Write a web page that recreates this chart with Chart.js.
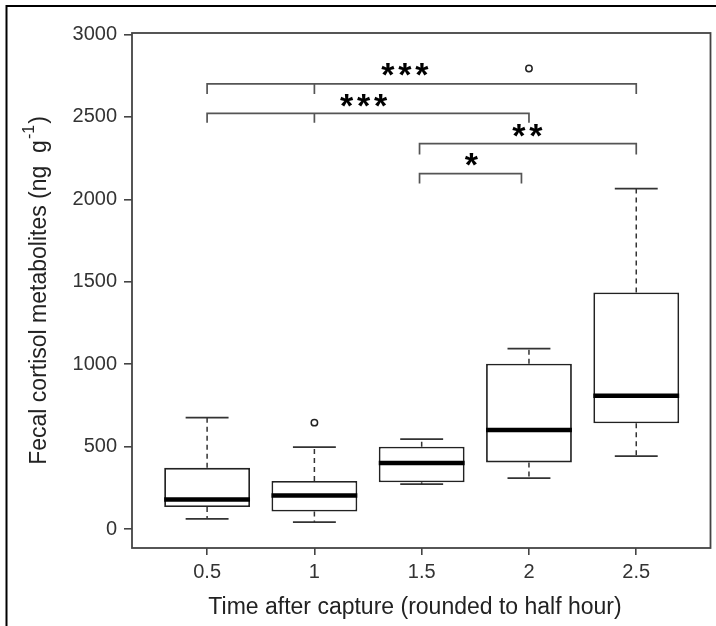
<!DOCTYPE html>
<html><head><meta charset="utf-8">
<script src="https://cdn.jsdelivr.net/npm/chart.js@4"></script>
<style>html,body{margin:0;padding:0;background:#fff;}#wrap{width:716px;height:626px;}</style>
</head><body><div id="wrap"><canvas id="c" width="716" height="626"></canvas></div>
<script>
// ---- data ----
const groups = [0.5, 1, 1.5, 2, 2.5];
const whiskerLow = [63, 43, 273, 310, 443];
const q1 = [135, 107, 285, 405, 642];
const median = [180, 205, 401, 601, 810];
const q3 = [372, 293, 500, 1004, 1435];
const whiskerHigh = [676, 498, 546, 1095, 2065];
const outlierX = [1, 2];
const outlierY = [646, 2794];
const xTicks = [0.5, 1, 1.5, 2, 2.5];
const xTickLabels = ['0.5', '1', '1.5', '2', '2.5'];
const yTicks = [0, 500, 1000, 1500, 2000, 2500, 3000];
// significance brackets
const bracketFrom = [0.5, 0.5, 1.49, 1.49];
const bracketTo = [2.5, 2.0, 2.5, 1.965];
const bracketY = [2701, 2522, 2338, 2156];
const bracketDrop = [62, 58, 66, 60];
const bracketMid = [1, 1, null, null];
const starLabels = ['***', '***', '**', '*'];
const starX = [1.422, 1.229, 1.993, 1.731];
const starY = [2788, 2599, 2417, 2241];
const xTitle = 'Time after capture (rounded to half hour)';
const yTitleMain = 'Fecal cortisol metabolites (ng  g';
const yTitleSup = '-1';
const yTitleEnd = ')';

const FONT = '"Liberation Sans", Arial, Helvetica, sans-serif';

const boxPlugin = {
  id: 'boxextras',
  beforeDraw(chart) {
    const c = chart.ctx;
    c.save();
    c.fillStyle = '#fff';
    c.fillRect(0, 0, chart.width, chart.height);
    c.strokeStyle = '#000';
    c.lineWidth = 2;
    c.beginPath();
    c.moveTo(6.5, chart.height); c.lineTo(6.5, 6); c.lineTo(chart.width, 6);
    c.stroke();
    c.restore();
  },
  afterDatasetsDraw(chart) {
    const c = chart.ctx;
    const xs = chart.scales.x, ys = chart.scales.y;
    const bars = chart.getDatasetMeta(0).data;
    c.save();
    // whiskers
    groups.forEach((g, i) => {
      const px = xs.getPixelForValue(g);
      const w = bars[i].width;
      c.strokeStyle = '#333';
      c.lineWidth = 1.5;
      c.setLineDash([5, 4]);
      c.beginPath();
      c.moveTo(px, ys.getPixelForValue(q3[i])); c.lineTo(px, ys.getPixelForValue(whiskerHigh[i]));
      c.moveTo(px, ys.getPixelForValue(q1[i])); c.lineTo(px, ys.getPixelForValue(whiskerLow[i]));
      c.stroke();
      c.setLineDash([]);
      c.lineWidth = 1.8;
      c.beginPath();
      const hy = ys.getPixelForValue(whiskerHigh[i]);
      const ly = ys.getPixelForValue(whiskerLow[i]);
      c.moveTo(px - w / 4, hy); c.lineTo(px + w / 4, hy);
      c.moveTo(px - w / 4, ly); c.lineTo(px + w / 4, ly);
      c.stroke();
      // median
      c.strokeStyle = '#000';
      c.lineWidth = 4.5;
      c.beginPath();
      const my = ys.getPixelForValue(median[i]);
      c.moveTo(px - w / 2, my); c.lineTo(px + w / 2, my);
      c.stroke();
    });
    // brackets
    c.strokeStyle = '#555';
    c.lineWidth = 1.7;
    bracketY.forEach((v, i) => {
      const y = ys.getPixelForValue(v);
      const yd = ys.getPixelForValue(v - bracketDrop[i]);
      const x1 = xs.getPixelForValue(bracketFrom[i]);
      const x2 = xs.getPixelForValue(bracketTo[i]);
      c.beginPath();
      c.moveTo(x1, yd); c.lineTo(x1, y); c.lineTo(x2, y); c.lineTo(x2, yd);
      if (bracketMid[i] !== null) {
        const xm = xs.getPixelForValue(bracketMid[i]);
        c.moveTo(xm, y); c.lineTo(xm, yd);
      }
      c.stroke();
    });
    // stars
    c.fillStyle = '#000';
    c.font = 'bold 34px ' + FONT;
    c.textAlign = 'center';
    c.textBaseline = 'alphabetic';
    const m = c.measureText('*');
    const inkMid = (m.actualBoundingBoxAscent - m.actualBoundingBoxDescent) / 2;
    const spacing = 17;
    starLabels.forEach((s, i) => {
      const cx = xs.getPixelForValue(starX[i]);
      const cy = ys.getPixelForValue(starY[i]);
      const n = s.length;
      for (let k = 0; k < n; k++) {
        c.fillText('*', cx + (k - (n - 1) / 2) * spacing, cy + inkMid);
      }
    });
    // plot frame
    const a = chart.chartArea;
    c.strokeStyle = '#444';
    c.lineWidth = 1.8;
    c.strokeRect(a.left, a.top, a.right - a.left, a.bottom - a.top);
    // x title
    c.fillStyle = '#222';
    c.font = '23px ' + FONT;
    c.textAlign = 'center';
    c.textBaseline = 'middle';
    c.fillText(xTitle, 415, 608);
    // y title with superscript
    c.translate(40, (a.top + a.bottom) / 2);
    c.rotate(-Math.PI / 2);
    c.textAlign = 'left';
    c.textBaseline = 'middle';
    c.font = '23px ' + FONT;
    const w1 = c.measureText(yTitleMain).width;
    const w3 = c.measureText(yTitleEnd).width;
    c.font = '16px ' + FONT;
    const w2 = c.measureText(yTitleSup).width;
    const total = w1 + w2 + w3 + 2;
    let x0 = -total / 2;
    c.font = '23px ' + FONT;
    c.fillText(yTitleMain, x0, 0);
    c.font = '16px ' + FONT;
    c.fillText(yTitleSup, x0 + w1 + 1, -10);
    c.font = '23px ' + FONT;
    c.fillText(yTitleEnd, x0 + w1 + w2 + 2, 0);
    c.restore();
  }
};

new Chart(document.getElementById('c'), {
  type: 'bar',
  data: {
    datasets: [
      {
        type: 'bar',
        label: 'Interquartile range',
        data: groups.map((g, i) => ({ x: g, y: [q1[i], q3[i]] })),
        backgroundColor: '#fff',
        borderColor: '#222',
        borderWidth: 1.8,
        borderSkipped: false,
        barPercentage: 0.8,
        categoryPercentage: 1,
        grouped: false
      },
      {
        type: 'scatter',
        label: 'Outliers',
        data: outlierX.map((x, i) => ({ x: x, y: outlierY[i] })),
        pointStyle: 'circle',
        pointRadius: 3.2,
        backgroundColor: '#fff',
        borderColor: '#222',
        borderWidth: 1.5
      }
    ]
  },
  options: {
    responsive: false,
    animation: false,
    devicePixelRatio: 1,
    layout: { padding: { left: 0, top: 33, right: 1, bottom: 0 } },
    plugins: { legend: { display: false }, tooltip: { enabled: false } },
    scales: {
      x: {
        type: 'linear',
        offset: false,
        min: 0.15,
        max: 2.846,
        afterBuildTicks: s => { s.ticks = xTicks.map(v => ({ value: v })); },
        afterFit: s => { s.height = 78; },
        grid: { offset: false, drawOnChartArea: false, tickLength: 7, color: '#444', lineWidth: 1.6 },
        border: { display: false },
        ticks: {
          padding: 5,
          color: '#333',
          font: { family: FONT, size: 20 },
          maxRotation: 0,
          callback: v => xTickLabels[xTicks.indexOf(v)]
        }
      },
      y: {
        type: 'linear',
        min: -114,
        max: 3009,
        afterBuildTicks: s => { s.ticks = yTicks.map(v => ({ value: v })); },
        afterFit: s => { s.width = 132; },
        grid: { drawOnChartArea: false, tickLength: 8, color: '#444', lineWidth: 1.6 },
        border: { display: false },
        ticks: {
          padding: 7,
          color: '#333',
          font: { family: FONT, size: 20 },
          callback: v => String(v)
        }
      }
    }
  },
  plugins: [boxPlugin]
});
</script>
</body></html>
